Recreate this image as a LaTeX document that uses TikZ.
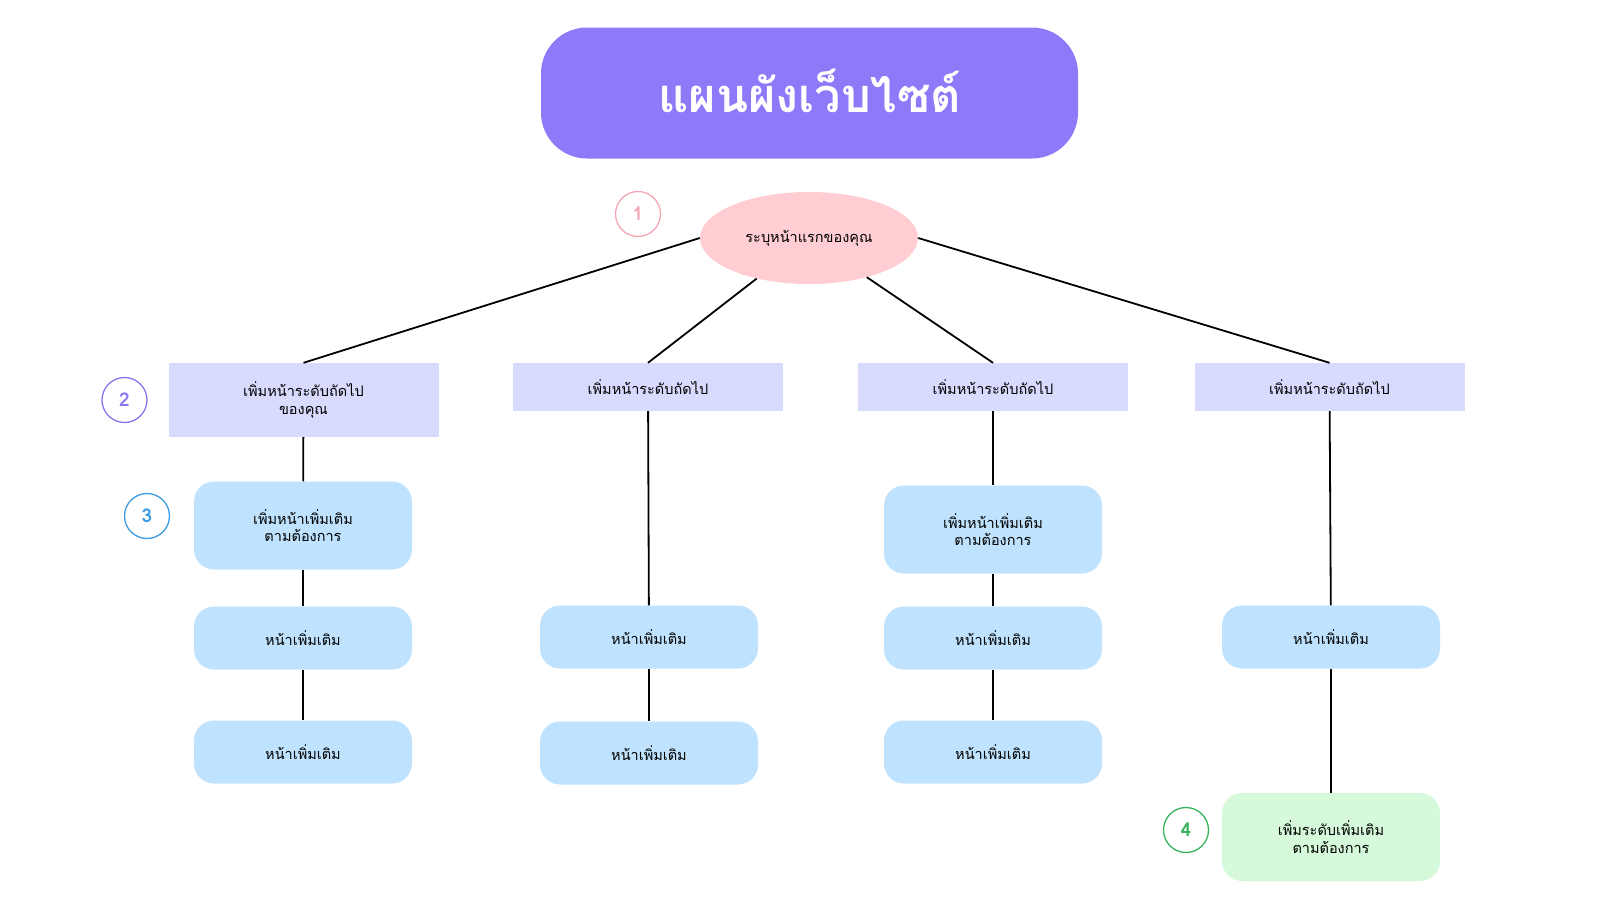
\documentclass[tikz,border=0pt]{standalone}
\usepackage{fontspec}
\newfontfamily\thaifont[Script=Thai]{Loma}
\usetikzlibrary{shapes,positioning}
\definecolor{titlebg}{HTML}{8E79F9}
\definecolor{homebg}{HTML}{FFCDD2}
\definecolor{homeline}{HTML}{F4A7B3}
\definecolor{levelbg}{HTML}{D8DAFE}
\definecolor{levelline}{HTML}{8B74F0}
\definecolor{pagebg}{HTML}{BFE3FE}
\definecolor{pageline}{HTML}{3C9BE0}
\definecolor{extrabg}{HTML}{D5F9DA}
\definecolor{extraline}{HTML}{37B35E}

\begin{document}
\begin{tikzpicture}[x=1pt, y=-1pt,
	txt/.style={font=\thaifont\fontsize{14.5}{17.5}\selectfont, align=center, text=black},
	levelbox/.style={txt, fill=levelbg, minimum width=270, inner sep=0},
	pagebox/.style={txt, fill=pagebg, rounded corners=20, minimum width=218, minimum height=63, inner sep=0},
	numcirc/.style={circle, line width=1.3, minimum size=45, inner sep=0, font=\thaifont\bfseries\fontsize{19}{19}\selectfont}]
	\useasboundingbox (0,0) rectangle (1600,900);
			\node[fill=titlebg, rounded corners=46, minimum width=537, minimum height=131,
				text=white, font=\thaifont\bfseries\fontsize{47}{47}\selectfont] (t) at (809.5,93) {\raisebox{4pt}{แผนผังเว็บไซต์}};
			\node[txt, ellipse, fill=homebg, minimum width=218, minimum height=92, inner sep=0] (e) at (809,238) {ระบุหน้าแรกของคุณ};
			\begin{scope}[every node/.style={levelbox}]
				\node[minimum height=74] (a) at (303.5,400) {เพิ่มหน้าระดับถัดไป\\ของคุณ};
				\node[minimum height=48] (b) at (648,387) {เพิ่มหน้าระดับถัดไป};
				\node[minimum height=48] (c) at (993,387) {เพิ่มหน้าระดับถัดไป};
				\node[minimum height=48] (d) at (1329.5,387) {เพิ่มหน้าระดับถัดไป};
			\end{scope}
			\begin{scope}[every node/.style={pagebox}]
				\node[minimum height=88] (a1) at (303,525.5) {เพิ่มหน้าเพิ่มเติม\\ตามต้องการ};
				\node (a2) at (303,638) {หน้าเพิ่มเติม};
				\node (a3) at (303,752) {หน้าเพิ่มเติม};
				\node (b1) at (649,637) {หน้าเพิ่มเติม};
				\node (b2) at (649,753) {หน้าเพิ่มเติม};
				\node[minimum height=88] (c1) at (993,529.5) {เพิ่มหน้าเพิ่มเติม\\ตามต้องการ};
				\node (c2) at (993,638) {หน้าเพิ่มเติม};
				\node (c3) at (993,752) {หน้าเพิ่มเติม};
				\node (d1) at (1331,637) {หน้าเพิ่มเติม};
				\node[fill=extrabg, minimum height=88] (d2) at (1331,837) {เพิ่มระดับเพิ่มเติม\\ตามต้องการ};
			\end{scope}
			\begin{scope}[every node/.style={numcirc}]
				\node[draw=homeline, text=homeline] (n1) at (638,214) {1};
				\node[draw=levelline, text=levelline] (n2) at (124.5,400) {2};
				\node[draw=pageline, text=pageline] (n3) at (147,516) {3};
				\node[draw=extraline, text=extraline] (n4) at (1186,830) {4};
			\end{scope}
			\begin{scope}[line width=1.8]
				\path (e.west) edge (a.north);
				\path (e) edge (b.north)
					edge (c.north);
				\path (e.east) edge (d.north);
				\path (a) edge (a1)
					(a1) edge (a2)
					(a2) edge (a3);
				\path (b) edge (b1)
					(b1) edge (b2);
				\path (c) edge (c1)
					(c1) edge (c2)
					(c2) edge (c3);
				\path (d) edge (d1)
					(d1) edge (d2);
			\end{scope}
		\end{tikzpicture}
\end{document}
